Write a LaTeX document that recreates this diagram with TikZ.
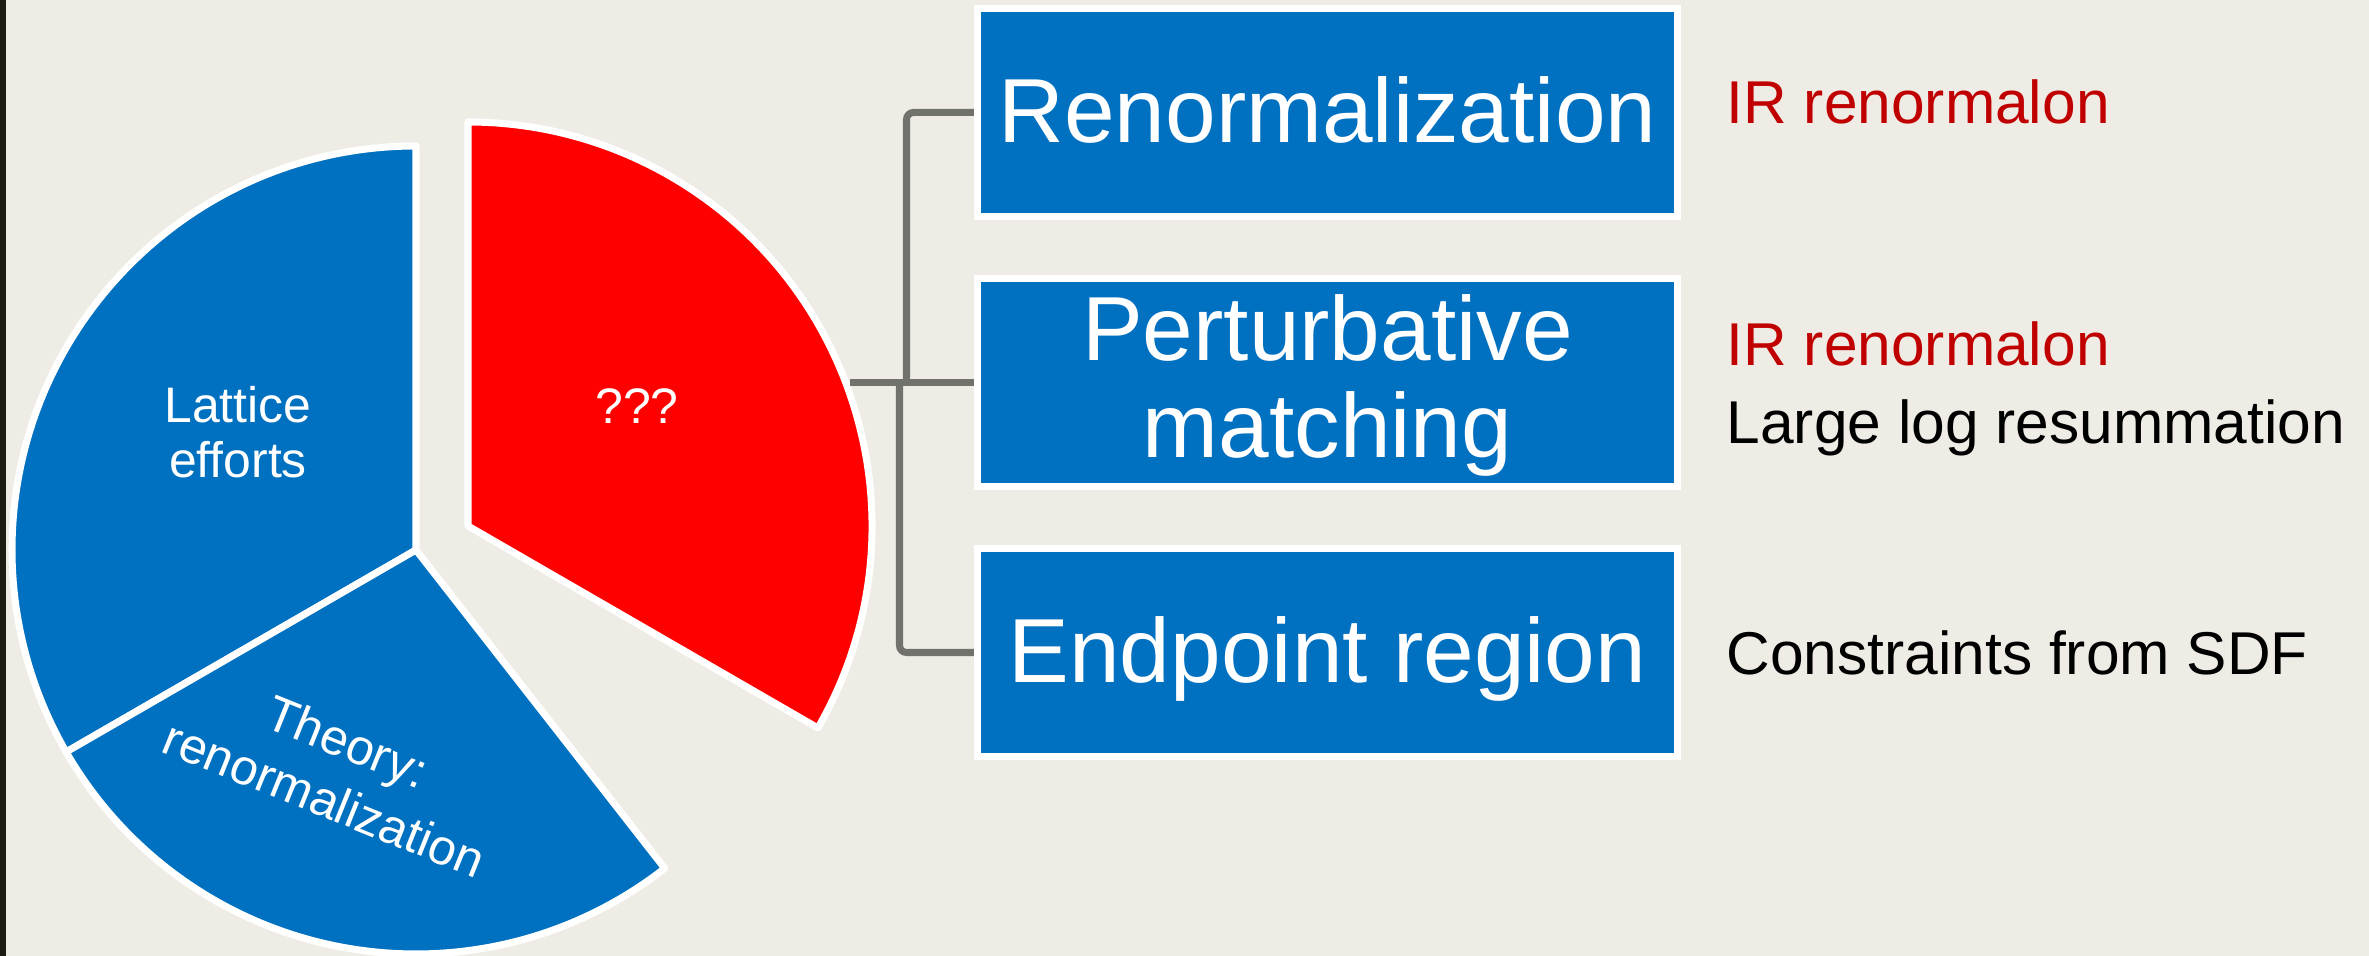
\documentclass[tikz,border=0pt]{standalone}
\usepackage{fontspec}
\setmainfont{Liberation Sans}
\definecolor{fondo}{RGB}{238,236,228}
\definecolor{marco}{RGB}{28,28,16}
\definecolor{azul}{RGB}{0,112,192}
\definecolor{rojo}{RGB}{255,0,0}
\definecolor{rojotexto}{RGB}{192,0,0}
\definecolor{gris}{RGB}{114,114,108}

\begin{document}
\begin{tikzpicture}[
    rebanada/.style={draw=white, line width=2pt, line join=round},
    etiqueta/.style={text=white, align=center, inner sep=0pt, font=\fontsize{14.2}{15.5}\selectfont},
    caja/.style={fill=azul, draw=white, line width=2pt, minimum width=7cm, minimum height=2.08cm,
                 inner sep=0pt, text=white, align=center, text height=0.6cm, text depth=0cm,
                 font=\fontsize{25.9}{27.6}\selectfont},
    conector/.style={draw=gris, line width=2pt, rounded corners=2pt},
    nota/.style={anchor=base west, inner sep=0pt, font=\fontsize{17.2}{20}\selectfont}
  ]
            % Fondo
            \fill[fondo] (0,0) rectangle (23.69,9.56);
            \fill[marco] (0,0) rectangle (0.06,9.56);
            \useasboundingbox (0,0) rectangle (23.69,9.56);

            % Grafico circular
            \coordinate (centro) at (4.16,4.06);
            \coordinate (centrorojo) at (4.68,4.30);
            \filldraw[rebanada, fill=azul] (centro) -- ++(90:4.04) arc[start angle=90, end angle=210, radius=4.04] -- cycle;
            \filldraw[rebanada, fill=azul] (centro) -- ++(210:4.04) arc[start angle=210, end angle=308, radius=4.04] -- cycle;
            \filldraw[rebanada, fill=rojo] (centrorojo) -- ++(-30:4.04) arc[start angle=-30, end angle=90, radius=4.04] -- cycle;
            \node[etiqueta] (lattice) at (2.38,5.24) {Lattice\\efforts};
            \node[etiqueta, rotate=-22, font=\fontsize{14.2}{17.5}\selectfont] (teoria) at (3.36,1.86) {Theory:\\renormalization};
            \node[etiqueta] (pregunta) at (6.37,5.50) {???};

            % Cajas
            \node[caja] (renorm) at (13.275,8.435) {Renormalization};
            \node[caja, text height=1.51cm] (pert) at (13.275,5.735) {Perturbative\\matching};
            \node[caja] (extremo) at (13.275,3.035) {Endpoint region};

            % Conectores
            \coordinate (salida) at (8.50,5.735);
            \coordinate (rama1) at (9.065,5.735);
            \coordinate (rama2) at (8.995,5.735);
            \draw[conector] (salida) -- (pert.west);
            \draw[conector] (rama1) |- (renorm.west);
            \draw[conector] (rama2) |- (extremo.west);

            % Notas
            \node[nota, text=rojotexto] (ir1) at (17.26,8.324) {IR renormalon};
            \node[nota, text=rojotexto] (ir2) at (17.26,5.90) {IR renormalon};
            \node[nota] (logs) at (17.26,5.125) {Large log resummation};
            \node[nota] (sdf) at (17.26,2.81) {Constraints from SDF};
\end{tikzpicture}
\end{document}
